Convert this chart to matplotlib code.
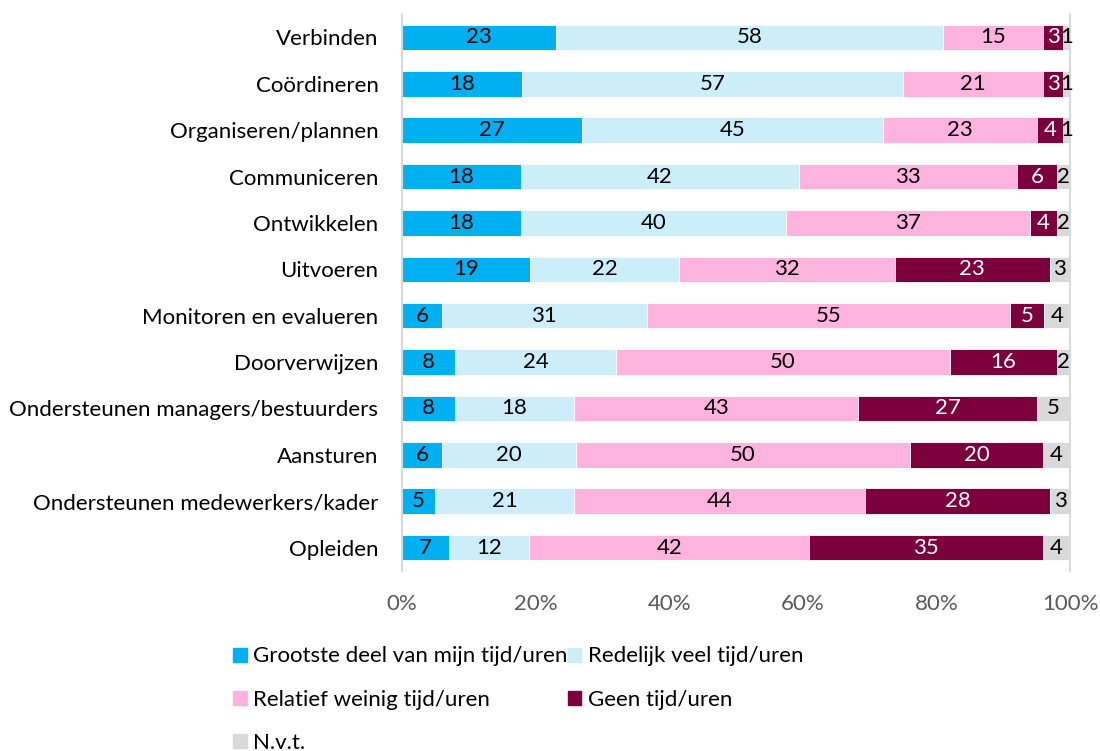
import numpy as np
import matplotlib.pyplot as plt
from matplotlib.patches import Patch

plt.rcParams['font.family'] = ['Lato', 'DejaVu Sans']

# ==============================
# Data
# ==============================
categorieen = ['Verbinden', 'Coördineren', 'Organiseren/plannen', 'Communiceren',
               'Ontwikkelen', 'Uitvoeren', 'Monitoren en evalueren', 'Doorverwijzen',
               'Ondersteunen managers/bestuurders', 'Aansturen',
               'Ondersteunen medewerkers/kader', 'Opleiden']

grootste = [23, 18, 27, 18, 18, 19, 6, 8, 8, 6, 5, 7]
redelijk = [58, 57, 45, 42, 40, 22, 31, 24, 18, 20, 21, 12]
weinig = [15, 21, 23, 33, 37, 32, 55, 50, 43, 50, 44, 42]
geen = [3, 3, 4, 6, 4, 23, 5, 16, 27, 20, 28, 35]
nvt = [1, 1, 1, 2, 2, 3, 4, 2, 5, 4, 3, 4]

reeksen = ['Grootste deel van mijn tijd/uren', 'Redelijk veel tijd/uren',
           'Relatief weinig tijd/uren', 'Geen tijd/uren', 'N.v.t.']
kleuren = ['#00B0F0', '#CCEEFB', '#FFB3DE', '#7B003C', '#D9D9D9']
tekstkleur = ['black', 'black', 'black', 'white', 'black']

waarden = np.array([grootste, redelijk, weinig, geen, nvt], dtype=float)
totaal = waarden.sum(axis=0)
aandeel = waarden / totaal

# ==============================
# Plot
# ==============================
fs = 16
fig = plt.figure(figsize=(11, 7.51), dpi=100)
ax = fig.add_axes([0.3655, 0.240, 0.6072, 0.741])

y = np.arange(len(categorieen))
links = np.zeros(len(categorieen))
for i in range(len(reeksen)):
    ax.barh(y, aandeel[i], left=links, height=0.55, color=kleuren[i],
            edgecolor='white', linewidth=0.6, label=reeksen[i])
    for j in range(len(categorieen)):
        xc = links[j] + aandeel[i][j] / 2
        ax.text(xc, y[j], '%d' % waarden[i][j], ha='center', va='center',
                fontsize=fs, color=tekstkleur[i])
    links += aandeel[i]

ax.set_ylim(len(categorieen) - 0.5, -0.5)
ax.set_xlim(0, 1)
ax.set_yticks(y)
ax.set_yticklabels(categorieen, fontsize=fs)
ax.set_xticks([0, 0.2, 0.4, 0.6, 0.8, 1.0])
ax.set_xticklabels(['0%', '20%', '40%', '60%', '80%', '100%'], fontsize=fs, color='#595959')
ax.tick_params(axis='both', length=0)
ax.tick_params(axis='x', pad=17)
ax.tick_params(axis='y', pad=17)
for s in ['top', 'bottom']:
    ax.spines[s].set_visible(False)
ax.spines['left'].set_color('#D9D9D9')
ax.spines['left'].set_linewidth(1.5)
ax.spines['right'].set_color('#D9D9D9')
ax.spines['right'].set_linewidth(1.5)

handles = [Patch(color=c) for c in kleuren]
volgorde = [0, 2, 4, 1, 3]
fig.legend([handles[k] for k in volgorde], [reeksen[k] for k in volgorde],
           ncol=2, loc='upper left', bbox_to_anchor=(0.198, 0.160),
           frameon=False, fontsize=fs, handlelength=0.6, handleheight=0.6,
           handletextpad=0.3, columnspacing=0.0, labelspacing=1.05,
           borderpad=0.2)

plt.savefig('out.png', dpi=100)
